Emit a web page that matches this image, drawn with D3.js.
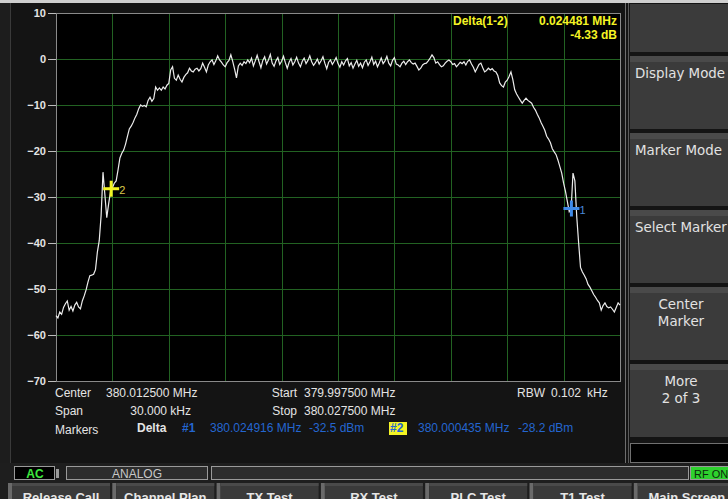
<!DOCTYPE html>
<html>
<head>
<meta charset="utf-8">
<script src="https://cdn.jsdelivr.net/npm/d3@7"></script>
<style>
  body { margin: 0; background: #141414; overflow: hidden; }
  svg { display: block; font-family: "Liberation Sans", Arial, sans-serif; }
</style>
</head>
<body>
<script>
// sweep: 379.9975 .. 380.0275 MHz, one reading every 0.1 kHz
const sweepStart = 379.9975;
const sweepStop = 380.0275;
const sweepStep = 0.0001;

// prettier-ignore
const levels = [
  -55.8, -56.3, -55.0, -55.5, -54.0, -53.2, -52.6, -54.6, -53.8, -54.8,
  -53.5, -52.9, -53.9, -54.3, -52.6, -51.5, -50.2, -48.5, -47.1, -47.0,
  -46.8, -45.8, -42.0, -39.5, -34.0, -24.6, -29.5, -34.5, -31.5, -28.8,
  -28.0, -27.0, -26.5, -24.1, -21.5, -20.5, -19.8, -18.5, -16.8, -15.2,
  -14.6, -13.8, -12.8, -12.0, -10.8, -10.0, -10.3, -10.1, -10.4, -9.0,
  -8.3, -9.2, -8.6, -6.1, -6.8, -6.3, -6.8, -6.1, -6.5, -5.7,
  -5.3, -2.4, -1.7, -4.2, -4.6, -3.5, -4.4, -5.0, -4.0, -3.4,
  -3.0, -2.0, -2.6, -2.8, -2.2, -2.0, -2.6, -2.1, -0.9, -1.8,
  -2.8, -1.3, -0.6, -0.2, -1.2, -0.4, 0.7, -0.2, -0.7, -1.3,
  -1.7, -0.8, -0.3, 0.9, -0.5, -2.2, -4.1, -1.5, -0.9, -1.4,
  -0.6, -1.0, -0.2, -0.8, 0.2, -1.5, -0.4, 0.8, -0.6, -1.9,
  -0.3, 0.5, -1.1, -0.2, 1.0, -0.9, -1.6, -0.4, 0.3, -1.2,
  -0.5, 0.6, -0.8, -2.0, -0.7, 0.1, -1.3, -0.6, 0.4, -0.9,
  -1.7, -0.5, 0.2, -1.0, -0.3, 0.7, -0.6, -1.4, -0.8, 0.0,
  -1.1, -0.4, 0.5, -0.9, -2.1, -0.7, -0.2, -1.2, -0.5, 0.3,
  -1.0, -1.8, -0.6, -1.3, -0.4, 0.1, -1.5, -0.8, -2.0, -1.1,
  -0.3, -1.6, -0.9, -1.9, -0.7, -0.2, -1.4, -0.6, 0.4, -1.2,
  -0.5, -1.7, -0.8, 0.2, -1.0, -0.4, 0.6, -0.9, -1.5, -0.3,
  0.3, -1.1, -1.3, -1.7, -0.9, -0.5, -1.2, -0.6, -0.2, -0.8,
  -1.1, -0.9, -1.6, -2.4, -2.0, -1.3, -1.0, -0.9, -0.4, 0.2,
  0.9, 0.3, -0.9, -0.6, -1.2, -1.7, -1.5, -0.9, -0.5, -0.2,
  -0.6, -1.2, -1.0, -1.7, -1.2, -0.7, -1.0, -0.6, -1.3, -0.5,
  -0.2, -1.1, -1.8, -2.8, -2.0, -1.2, -0.9, -1.9, -2.8, -2.5,
  -2.0, -2.4, -2.1, -2.6, -2.8, -3.6, -5.2, -5.8, -6.1, -5.0,
  -4.6, -3.8, -2.8, -4.5, -6.7, -7.6, -8.3, -9.0, -9.6, -9.0,
  -8.5, -9.0, -9.3, -9.6, -10.5, -11.1, -12.0, -12.8, -13.8, -14.6,
  -15.5, -16.8, -17.4, -18.2, -19.5, -20.2, -20.8, -22.0, -23.4, -24.8,
  -27.0, -28.8, -31.0, -33.2, -32.6, -24.8, -26.5, -34.3, -40.0, -45.3,
  -46.3, -47.0, -47.8, -49.0, -49.6, -50.4, -51.2, -51.8, -52.5, -53.0,
  -54.6, -53.6, -53.0, -53.8, -54.1, -53.9, -54.4, -55.0, -54.0, -53.0,
  -53.5
];

const yTicks = [10, 0, -10, -20, -30, -40, -50, -60, -70];

const markerFreqs = [380.024916, 380.000435];
const markerLevels = [-32.5, -28.2];
const markerNames = ["1", "2"];

const softKeys = ["", "Display Mode", "Marker Mode", "Select Marker", "Center\nMarker", "More\n2 of 3"];
const bottomKeys = ["Release Call", "Channel Plan", "TX Test", "RX Test", "PLC Test", "T1 Test", "Main Screen"];

const width = 728;
const height = 499;
const plot = { left: 56, right: 620, top: 13, bottom: 381 };

const textColor = "#e4e4e4";
const blue = "#2466d0";
const yellow = "#f4f424";

const svg = d3.select("body").append("svg").attr("width", width).attr("height", height);

svg.append("rect").attr("width", width).attr("height", height).attr("fill", "#141414");
svg.append("rect").attr("width", width).attr("height", 3).attr("fill", "#cfcfcf");
svg.append("rect").attr("y", 3).attr("width", 10).attr("height", 460).attr("fill", "#1d1d1d");
svg.append("line").attr("x1", 10.5).attr("x2", 10.5).attr("y1", 3).attr("y2", 463).attr("stroke", "#3a3a3a");

const x = d3.scaleLinear().domain([sweepStart, sweepStop]).range([plot.left, plot.right]);
const y = d3.scaleLinear().domain([-70, 10]).range([plot.bottom, plot.top]);

// plot area
svg.append("rect")
  .attr("x", plot.left).attr("y", plot.top)
  .attr("width", plot.right - plot.left).attr("height", plot.bottom - plot.top)
  .attr("fill", "#000");

const grid = svg.append("g").attr("stroke", "#226222").attr("shape-rendering", "crispEdges");
grid.selectAll("line.h")
  .data(yTicks.slice(1, -1))
  .join("line")
  .attr("x1", plot.left).attr("x2", plot.right)
  .attr("y1", (d) => Math.round(y(d)) + 0.5).attr("y2", (d) => Math.round(y(d)) + 0.5);
grid.selectAll("line.v")
  .data(d3.range(1, 10))
  .join("line")
  .attr("x1", (d) => Math.round(x(sweepStart + d * 0.003)) + 0.5)
  .attr("x2", (d) => Math.round(x(sweepStart + d * 0.003)) + 0.5)
  .attr("y1", plot.top).attr("y2", plot.bottom);

svg.append("rect")
  .attr("x", plot.left + 0.5).attr("y", plot.top + 0.5)
  .attr("width", plot.right - plot.left).attr("height", plot.bottom - plot.top)
  .attr("fill", "none").attr("stroke", "#8a8a8a");

const yAxis = d3.axisLeft(y).tickValues(yTicks).tickSize(8).tickPadding(2);
const gy = svg.append("g").attr("transform", `translate(${plot.left} 0)`).call(yAxis);
gy.select(".domain").remove();
gy.selectAll(".tick line").attr("stroke", "#bdbdbd");
gy.selectAll(".tick text")
  .attr("fill", textColor)
  .attr("font-size", 11)
  .attr("font-weight", "bold")
  .attr("font-family", "Liberation Sans, Arial, sans-serif");

// trace
const line = d3.line()
  .x((d, i) => x(sweepStart + i * sweepStep))
  .y((d) => y(d));
svg.append("path")
  .datum(levels)
  .attr("d", line)
  .attr("fill", "none")
  .attr("stroke", "#ececec")
  .attr("stroke-width", 1.2);

// markers
const markerColors = [ "#3f8ae8", yellow ];
const markerLabelColors = [ "#4a88d8", "#d9c84a" ];
markerFreqs.forEach((f, i) => {
  const cx = x(f), cy = y(markerLevels[i]);
  const g = svg.append("g").attr("stroke", markerColors[i]).attr("stroke-width", 3);
  g.append("line").attr("x1", cx - 8).attr("x2", cx + 8).attr("y1", cy).attr("y2", cy);
  g.append("line").attr("x1", cx).attr("x2", cx).attr("y1", cy - 8).attr("y2", cy + 8);
  svg.append("text")
    .attr("x", cx + 8).attr("y", cy + 5)
    .attr("fill", markerLabelColors[i])
    .attr("font-size", 11)
    .text(markerNames[i]);
});

// delta readout
const note = svg.append("g").attr("fill", yellow).attr("font-size", 12).attr("font-weight", "bold");
note.append("text").attr("x", 453).attr("y", 25).text("Delta(1-2)");
note.append("text").attr("x", 617).attr("y", 25).attr("text-anchor", "end").text("0.024481 MHz");
note.append("text").attr("x", 617).attr("y", 39).attr("text-anchor", "end").text("-4.33 dB");

// info lines below the plot
const info = svg.append("g").attr("font-size", 12).attr("fill", textColor);
const put = (tx, ty, t, opts = {}) => {
  const el = info.append("text").attr("x", tx).attr("y", ty).text(t);
  if (opts.anchor) el.attr("text-anchor", opts.anchor);
  if (opts.bold) el.attr("font-weight", "bold");
  if (opts.fill) el.attr("fill", opts.fill);
  return el;
};
put(55, 397, "Center");
put(106, 397, "380.012500 MHz");
put(297, 397, "Start", { anchor: "end" });
put(304, 397, "379.997500 MHz");
put(517, 397, "RBW");
put(551, 397, "0.102");
put(587, 397, "kHz");
put(55, 415, "Span");
put(191, 415, "30.000 kHz", { anchor: "end" });
put(297, 415, "Stop", { anchor: "end" });
put(304, 415, "380.027500 MHz");
put(55, 434, "Markers");
put(137, 432, "Delta", { bold: true });
put(182, 432, "#1", { bold: true, fill: blue });
put(210, 432, "380.024916 MHz", { fill: blue });
put(309, 432, "-32.5 dBm", { fill: blue });
info.append("rect").attr("x", 389).attr("y", 422).attr("width", 18).attr("height", 13).attr("fill", yellow);
put(390, 432, "#2", { bold: true, fill: blue });
put(418, 432, "380.000435 MHz", { fill: blue });
put(518, 432, "-28.2 dBm", { fill: blue });

// right soft keys
svg.append("line").attr("x1", 625.5).attr("x2", 625.5).attr("y1", 3).attr("y2", 463).attr("stroke", "#6e6e6e");
svg.append("line").attr("x1", 628.5).attr("x2", 628.5).attr("y1", 3).attr("y2", 463).attr("stroke", "#5a5a5a");
const keyTops = [4, 56, 133, 210, 287, 364];
const keyBottoms = [52, 129, 206, 283, 360, 437];
const keys = svg.append("g");
softKeys.forEach((label, i) => {
  const k = keys.append("g");
  k.append("rect").attr("x", 630).attr("y", keyTops[i]).attr("width", 98)
    .attr("height", keyBottoms[i] - keyTops[i]).attr("fill", "#3b3b3b");
  if (i > 0) {
    k.append("rect").attr("x", 630).attr("y", keyTops[i]).attr("width", 98)
      .attr("height", 6).attr("fill", "#4a4a4a");
  }
  const lines = label.split("\n");
  lines.forEach((ln, j) => {
    k.append("text")
      .attr("x", lines.length > 1 ? 681 : 635)
      .attr("y", keyTops[i] + 22 + j * 17)
      .attr("text-anchor", lines.length > 1 ? "middle" : "start")
      .attr("fill", "#e2e2e2")
      .attr("font-size", 13.4)
      .attr("font-family", "DejaVu Sans, sans-serif")
      .text(ln);
  });
});
svg.append("rect").attr("x", 630.5).attr("y", 443.5).attr("width", 98).attr("height", 19)
  .attr("fill", "#000").attr("stroke", "#707070");

// status strip
svg.append("rect").attr("x", 0).attr("y", 463).attr("width", width).attr("height", 36).attr("fill", "#1e1e1e");
const status = svg.append("g").attr("font-size", 12).attr("font-weight", "bold");
status.append("rect").attr("x", 14.5).attr("y", 466.5).attr("width", 40).attr("height", 13)
  .attr("fill", "#000").attr("stroke", "#9a9a9a");
status.append("text").attr("x", 35).attr("y", 478).attr("text-anchor", "middle").attr("fill", "#3ee83e").text("AC");
status.append("rect").attr("x", 56).attr("y", 469).attr("width", 3).attr("height", 9).attr("fill", "#9a9a9a");
status.append("rect").attr("x", 66.5).attr("y", 466.5).attr("width", 141).attr("height", 13)
  .attr("fill", "#2d2d2d").attr("stroke", "#9a9a9a");
status.append("text").attr("x", 137).attr("y", 478).attr("text-anchor", "middle")
  .attr("fill", "#c8c8c8").attr("font-weight", "normal").text("ANALOG");
status.append("rect").attr("x", 211.5).attr("y", 466.5).attr("width", 477).attr("height", 13)
  .attr("fill", "#2d2d2d").attr("stroke", "#9a9a9a");
status.append("rect").attr("x", 690.5).attr("y", 466.5).attr("width", 40).attr("height", 13)
  .attr("fill", "#2ed12e").attr("stroke", "#9a9a9a");
status.append("text").attr("x", 694).attr("y", 478).attr("fill", "#0c2a0c").attr("font-weight", "normal")
  .attr("font-size", 11).text("RF ON");

// bottom keys
const bottom = svg.append("g");
bottomKeys.forEach((label, i) => {
  const bx = 12 + i * 104.3;
  bottom.append("rect").attr("x", bx - 4).attr("y", 483).attr("width", 4).attr("height", 16).attr("fill", "#6a6a6a");
  bottom.append("rect").attr("x", bx).attr("y", 483).attr("width", 98).attr("height", 16).attr("fill", "#3a3a3a");
  bottom.append("rect").attr("x", bx).attr("y", 483).attr("width", 98).attr("height", 3).attr("fill", "#4a4a4a");
  bottom.append("text")
    .attr("x", bx + 49).attr("y", 502)
    .attr("text-anchor", "middle")
    .attr("fill", "#e6e6e6")
    .attr("font-size", 13)
    .attr("font-weight", "bold")
    .text(label);
});
</script>
</body>
</html>
